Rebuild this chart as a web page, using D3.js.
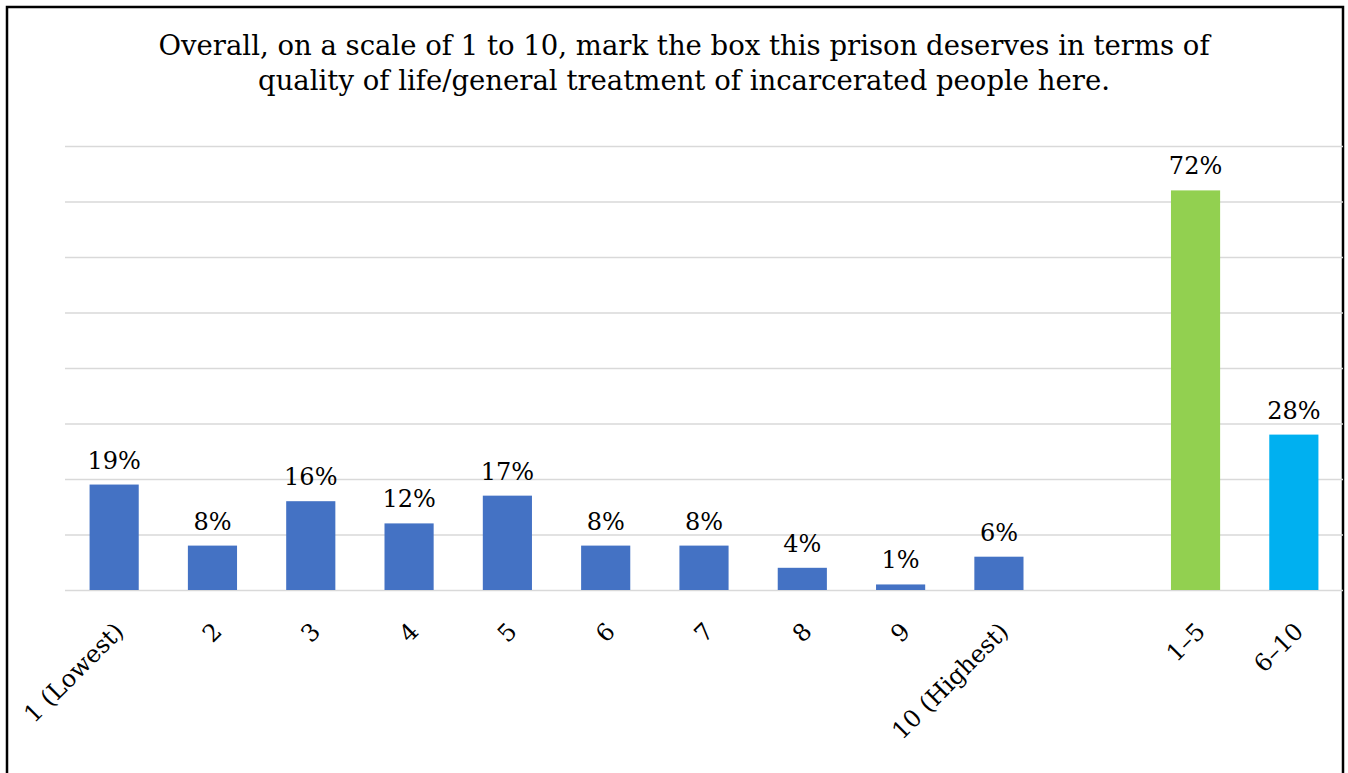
<!DOCTYPE html>
<html>
<head>
<meta charset="utf-8">
<script src="https://cdn.jsdelivr.net/npm/d3@7"></script>
<style>
  html, body { margin: 0; padding: 0; background: #fff; }
  svg { display: block; font-family: "DejaVu Serif", "Liberation Serif", serif; }
  .gridline line { stroke: #d9d9d9; stroke-width: 1.5px; }
</style>
</head>
<body>
<div id="view"></div>
<script>
(function () {
  /* ============ DATA ============ */
  const categories = ["1 (Lowest)", "2", "3", "4", "5", "6", "7", "8", "9", "10 (Highest)", "gap", "1–5", "6–10"];
  const values     = [0.19, 0.08, 0.16, 0.12, 0.17, 0.08, 0.08, 0.04, 0.01, 0.06, null, 0.72, 0.28];
  const barColors  = ["#4472c4", "#4472c4", "#4472c4", "#4472c4", "#4472c4", "#4472c4", "#4472c4", "#4472c4", "#4472c4", "#4472c4", null, "#92d050", "#00b0f0"];
  const gridTicks  = [0, 0.1, 0.2, 0.3, 0.4, 0.5, 0.6, 0.7, 0.8];
  const titleLines = [
    "Overall, on a scale of 1 to 10, mark the box this prison deserves in terms of",
    "quality of life/general treatment of incarcerated people here."
  ];

  const data = categories.map((c, i) => ({ cat: c, v: values[i], color: barColors[i] }));
  const fmtPct = d3.format(".0%");

  /* ============ LAYOUT ============ */
  const W = 1348, H = 773;
  const M = { t: 146, r: 5, b: 183, l: 65 };
  const w = W - M.l - M.r;
  const h = H - M.t - M.b;

  const svg = d3.select("#view").append("svg")
    .attr("width", W).attr("height", H);

  // khung viền
  svg.append("rect")
    .attr("x", 7).attr("y", 7)
    .attr("width", 1336).attr("height", 820)
    .attr("fill", "none")
    .attr("stroke", "#000")
    .attr("stroke-width", 2.5);

  // tiêu đề
  const title = svg.append("text")
    .attr("text-anchor", "middle")
    .style("font-size", "27.5px")
    .attr("fill", "#000");
  title.selectAll("tspan")
    .data(titleLines)
    .join("tspan")
    .attr("x", 684)
    .attr("y", (d, i) => 55 + i * 35)
    .text(d => d);

  const g = svg.append("g").attr("transform", `translate(${M.l},${M.t})`);

  const x = d3.scaleBand()
    .domain(categories)
    .range([0, w])
    .paddingInner(0.5)
    .paddingOuter(0.25);

  const y = d3.scaleLinear().domain([0, 0.8]).range([h, 0]);

  // grid ngang
  g.append("g")
    .attr("class", "gridline")
    .call(d3.axisLeft(y).tickValues(gridTicks).tickSize(-w).tickFormat(""))
    .call(s => s.select(".domain").remove());

  // bars
  const bars = data.filter(d => d.v != null);
  g.selectAll("rect.bar")
    .data(bars)
    .join("rect")
    .attr("class", "bar")
    .attr("x", d => x(d.cat))
    .attr("y", d => y(d.v))
    .attr("width", x.bandwidth())
    .attr("height", d => y(0) - y(d.v))
    .attr("fill", d => d.color);

  // nhãn giá trị
  g.selectAll("text.val")
    .data(bars)
    .join("text")
    .attr("class", "val")
    .attr("x", d => x(d.cat) + x.bandwidth() / 2)
    .attr("y", d => y(d.v) - 16)
    .attr("text-anchor", "middle")
    .style("font-size", "24px")
    .attr("fill", "#000")
    .text(d => fmtPct(d.v));

  // nhãn trục X (xoay -45°)
  g.selectAll("text.cat")
    .data(data.filter(d => d.cat !== "gap"))
    .join("text")
    .attr("class", "cat")
    .attr("text-anchor", "end")
    .attr("transform", d => `translate(${x(d.cat) + x.bandwidth() / 2 + 5},${h + 37}) rotate(-45)`)
    .attr("dy", "0.35em")
    .style("font-size", "24px")
    .attr("fill", "#000")
    .text(d => d.cat);
})();
</script>
</body>
</html>
